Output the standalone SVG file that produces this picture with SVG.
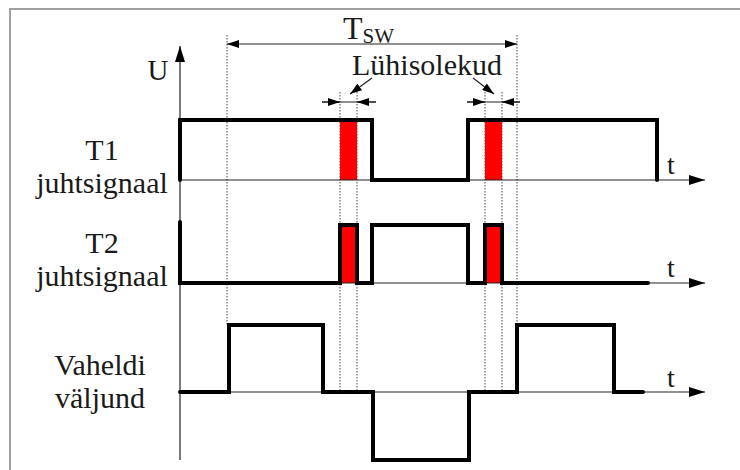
<svg xmlns="http://www.w3.org/2000/svg" width="740" height="470" viewBox="0 0 740 470">
<defs>
<marker id="ah" viewBox="0 0 16 10" refX="16" refY="5" markerWidth="16" markerHeight="10" markerUnits="userSpaceOnUse" orient="auto">
<path d="M0,0 L16,5 L0,10 Z" fill="#000"/>
</marker>
<marker id="sa" viewBox="0 0 12 8" refX="12" refY="4" markerWidth="12" markerHeight="8" markerUnits="userSpaceOnUse" orient="auto">
<path d="M0,0 L12,4 L0,8 Z" fill="#000"/>
</marker>
</defs>
<style>
.lbl{font-family:"Liberation Serif","DejaVu Serif",serif;fill:#1a1a1a;}
.axis{stroke:#222;stroke-width:1.2;fill:none;}
.sig{stroke:#000;stroke-width:4;fill:none;stroke-linejoin:miter;stroke-linecap:round;}
.dot{stroke:#444;stroke-width:1;stroke-dasharray:1.5 1.5;fill:none;}
.red{fill:#ff0000;stroke:none;}
.dim{stroke:#222;stroke-width:1.2;fill:none;}
</style>
<rect x="0" y="0" width="740" height="470" fill="#fff"/>
<path d="M10,470 V9 H740" fill="none" stroke="#a0a0a0" stroke-width="2"/>

<g id="guides">
<line class="dot" x1="227" y1="35" x2="227" y2="325"/>
<line class="dot" x1="517" y1="35" x2="517" y2="325"/>
<line class="dot" x1="340" y1="92" x2="340" y2="392"/>
<line class="dot" x1="357" y1="92" x2="357" y2="392"/>
<line class="dot" x1="485" y1="92" x2="485" y2="392"/>
<line class="dot" x1="502" y1="92" x2="502" y2="392"/>
</g>

<g id="red-blocks">
<rect class="red" x="340" y="120" width="17" height="60"/>
<rect class="red" x="485" y="120" width="17" height="60"/>
<rect class="red" x="340" y="225" width="17" height="58"/>
<rect class="red" x="485" y="225" width="17" height="58"/>
</g>

<g id="axes">
<line class="axis" x1="180" y1="460" x2="180" y2="46" marker-end="url(#ah)"/>
<line class="axis" x1="180" y1="180" x2="705" y2="180" marker-end="url(#ah)"/>
<line class="axis" x1="180" y1="283" x2="705" y2="283" marker-end="url(#ah)"/>
<line class="axis" x1="180" y1="392" x2="705" y2="392" marker-end="url(#ah)"/>
<text class="lbl" font-family="Liberation Serif, DejaVu Serif, serif" x="158" y="80" font-size="29" text-anchor="middle">U</text>
<text class="lbl" font-family="Liberation Serif, DejaVu Serif, serif" x="671" y="174" font-size="28" text-anchor="middle">t</text>
<text class="lbl" font-family="Liberation Serif, DejaVu Serif, serif" x="671" y="277" font-size="28" text-anchor="middle">t</text>
<text class="lbl" font-family="Liberation Serif, DejaVu Serif, serif" x="671" y="387" font-size="28" text-anchor="middle">t</text>
</g>

<g id="T1">
<path class="sig" d="M180,180 V120 H372 V180 H468 V120 H657 V180"/>
<text class="lbl" font-family="Liberation Serif, DejaVu Serif, serif" x="102" y="160" font-size="30" text-anchor="middle">T1</text>
<text class="lbl" font-family="Liberation Serif, DejaVu Serif, serif" x="102" y="193" font-size="30" text-anchor="middle">juhtsignaal</text>
</g>

<g id="T2">
<path class="sig" d="M180,222 V283 H340 V225 H357 V283 H372 V225 H468 V283 H485 V225 H502 V283 H648"/>
<text class="lbl" font-family="Liberation Serif, DejaVu Serif, serif" x="102" y="253" font-size="30" text-anchor="middle">T2</text>
<text class="lbl" font-family="Liberation Serif, DejaVu Serif, serif" x="102" y="286" font-size="30" text-anchor="middle">juhtsignaal</text>
</g>

<g id="Vaheldi">
<path class="sig" d="M180,392 H229 V325 H323 V392 H373 V460 H469 V392 H517 V325 H614 V392 H643"/>
<text class="lbl" font-family="Liberation Serif, DejaVu Serif, serif" x="100" y="375" font-size="30" text-anchor="middle">Vaheldi</text>
<text class="lbl" font-family="Liberation Serif, DejaVu Serif, serif" x="100" y="408" font-size="30" text-anchor="middle">väljund</text>
</g>

<g id="Tsw">
<line class="dim" x1="372" y1="44" x2="227" y2="44" marker-end="url(#sa)"/>
<line class="dim" x1="372" y1="44" x2="517" y2="44" marker-end="url(#sa)"/>
<text class="lbl" font-family="Liberation Serif, DejaVu Serif, serif" x="343" y="39" font-size="32">T<tspan font-size="21" dy="4">SW</tspan></text>
</g>

<g id="Luhisolekud">
<text class="lbl" font-family="Liberation Serif, DejaVu Serif, serif" x="427" y="75" font-size="30" text-anchor="middle">Lühisolekud</text>
<line class="dim" x1="322" y1="102" x2="376" y2="102"/>
<line class="dim" x1="322" y1="102" x2="340" y2="102" marker-end="url(#sa)"/>
<line class="dim" x1="376" y1="102" x2="357" y2="102" marker-end="url(#sa)"/>
<line class="dim" x1="372" y1="78" x2="350" y2="94" marker-end="url(#sa)"/>
<line class="dim" x1="467" y1="102" x2="520" y2="102"/>
<line class="dim" x1="467" y1="102" x2="485" y2="102" marker-end="url(#sa)"/>
<line class="dim" x1="520" y1="102" x2="502" y2="102" marker-end="url(#sa)"/>
<line class="dim" x1="473" y1="78" x2="494" y2="94" marker-end="url(#sa)"/>
</g>
</svg>
